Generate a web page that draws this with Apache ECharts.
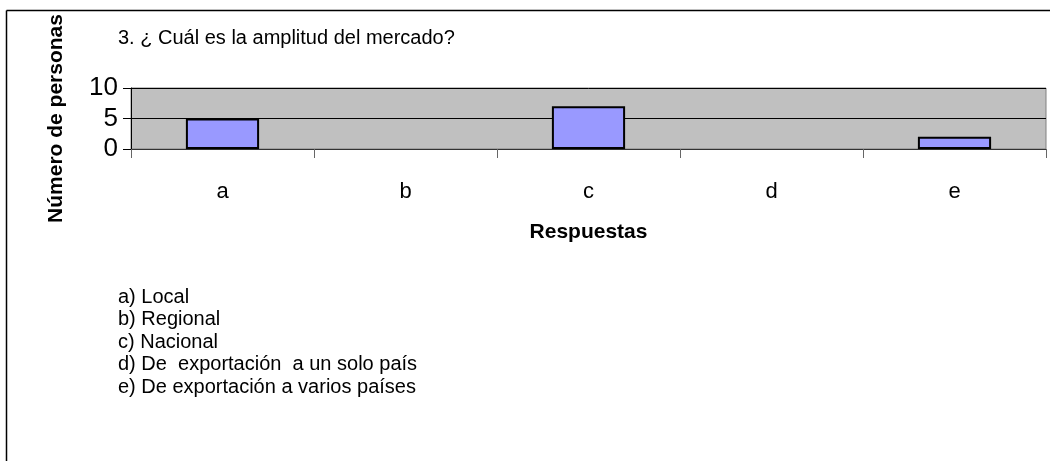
<!DOCTYPE html>
<html>
<head>
<meta charset="utf-8">
<script src="https://cdn.jsdelivr.net/npm/echarts@6/dist/echarts.min.js"></script>
<style>
    html,body{margin:0;padding:0;background:#fff;}
    #main{width:1050px;height:461px;}
</style>
</head>
<body>
<div id="main"></div>
<script>
    // datos
    var categorias = ['a', 'b', 'c', 'd', 'e'];
    var personas = [5, 0, 7, 0, 2];
    var ticksY = [0, 5, 10];
    var opciones = [
        'a) Local',
        'b) Regional',
        'c) Nacional',
        'd) De  exportación  a un solo país',
        'e) De exportación a varios países'
    ];

    var fuente = 'Liberation Sans, Arial, sans-serif';

    var chart = echarts.init(document.getElementById('main'));

    var textos = [];
    for (var i = 0; i < opciones.length; i++) {
        textos.push({
            type: 'text',
            style: {
                x: 118, y: 297 + i * 22.6,
                verticalAlign: 'middle',
                text: opciones[i], fill: '#000', font: '20px ' + fuente
            }
        });
    }
    // marco (solo arriba e izquierda visibles)
    textos.push({type: 'line', shape: {x1: 6.5, y1: 10.5, x2: 1050, y2: 10.5}, style: {stroke: '#000', lineWidth: 1.5}});
    textos.push({type: 'line', shape: {x1: 6.5, y1: 10.5, x2: 6.5, y2: 461}, style: {stroke: '#000', lineWidth: 1.5}});

    // las barras en cero no se dibujan
    var barras = personas.map(function (v) { return v === 0 ? '-' : v; });

    var option = {
        backgroundColor: '#fff',
        animation: false,
        title: {
            text: '3. ¿ Cuál es la amplitud del mercado?',
            left: 118,
            top: 28,
            padding: 0,
            textStyle: {fontSize: 20, fontWeight: 'normal', color: '#000', fontFamily: fuente}
        },
        grid: {
            left: 131,
            right: 4,
            top: 88,
            bottom: 312,
            show: true,
            backgroundColor: '#c0c0c0',
            borderColor: '#808080',
            borderWidth: 1
        },
        xAxis: {
            type: 'category',
            data: categorias,
            name: 'Respuestas',
            nameLocation: 'middle',
            nameGap: 73,
            nameTextStyle: {fontSize: 21, fontWeight: 'bold', color: '#000', fontFamily: fuente},
            axisLine: {lineStyle: {color: '#333', width: 1}},
            axisTick: {show: true, length: 9, lineStyle: {color: '#666'}},
            axisLabel: {fontSize: 22, color: '#000', margin: 32, fontFamily: fuente}
        },
        yAxis: {
            type: 'value',
            min: ticksY[0],
            max: ticksY[ticksY.length - 1],
            interval: 5,
            name: 'Número de personas',
            nameLocation: 'middle',
            nameGap: 64,
            nameTextStyle: {fontSize: 21, fontWeight: 'bold', color: '#000', fontFamily: fuente},
            axisLine: {show: true, lineStyle: {color: '#000', width: 1}},
            axisTick: {show: true, length: 8, lineStyle: {color: '#000'}},
            axisLabel: {fontSize: 26, color: '#000', margin: 13, fontFamily: fuente},
            splitLine: {show: true, lineStyle: {color: '#000', width: 1}}
        },
        series: [{
            type: 'bar',
            data: barras,
            barWidth: '40%',
            itemStyle: {color: '#9999ff', borderColor: '#000', borderWidth: 2}
        }],
        graphic: textos
    };
    chart.setOption(option);
</script>
</body>
</html>
